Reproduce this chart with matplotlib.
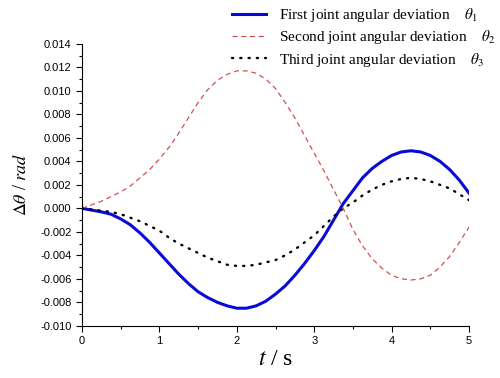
import numpy as np
import matplotlib
matplotlib.use('Agg')
import matplotlib.pyplot as plt
from matplotlib.ticker import MultipleLocator, FormatStrFormatter

# time samples (s)
t = [0, 0.125, 0.25, 0.375, 0.5, 0.625, 0.75, 0.875, 1.0, 1.125, 1.25,
     1.375, 1.5, 1.625, 1.75, 1.875, 2.0, 2.125, 2.25, 2.375, 2.5, 2.625,
     2.75, 2.875, 3.0, 3.125, 3.25, 3.375, 3.5, 3.625, 3.75, 3.875, 4.0,
     4.125, 4.25, 4.375, 4.5, 4.625, 4.75, 4.875, 5.0]

# joint angular deviations (rad)
theta1 = [0, -0.00015, -0.0003, -0.0005, -0.0009, -0.0014, -0.0021, -0.0029,
          -0.0038, -0.0047, -0.0056, -0.0064, -0.0071, -0.0076, -0.0080,
          -0.0083, -0.0085, -0.0085, -0.0083, -0.0079, -0.0073, -0.0066,
          -0.0057, -0.0047, -0.0036, -0.0024, -0.0010, 0.0004, 0.0015,
          0.0026, 0.0034, 0.0040, 0.0045, 0.0048, 0.0049, 0.0048, 0.0045,
          0.0040, 0.0033, 0.0024, 0.0013]
theta2 = [0, 0.0003, 0.0006, 0.0010, 0.0014, 0.0019, 0.0026, 0.0033, 0.0042,
          0.0052, 0.0064, 0.0077, 0.0090, 0.0101, 0.0109, 0.0114, 0.0117,
          0.0117, 0.0115, 0.0110, 0.0102, 0.0090, 0.0077, 0.0062, 0.0047,
          0.0032, 0.0016, 0.0000, -0.0018, -0.0032, -0.0043, -0.0051,
          -0.0057, -0.0060, -0.0061, -0.0060, -0.0057, -0.0050, -0.0041,
          -0.0029, -0.0016]
theta3 = [0, -0.0001, -0.0002, -0.0003, -0.0005, -0.0008, -0.0011, -0.0015,
          -0.0019, -0.0025, -0.0030, -0.0034, -0.0038, -0.0042, -0.0045,
          -0.0048, -0.0049, -0.0049, -0.0048, -0.0046, -0.0044, -0.0040,
          -0.0035, -0.0029, -0.0023, -0.0015, -0.0007, 0.0000, 0.0005,
          0.0011, 0.0016, 0.0020, 0.0023, 0.0025, 0.0026, 0.0025, 0.0023,
          0.0020, 0.0017, 0.0012, 0.0007]

plt.rcParams['mathtext.fontset'] = 'stix'

fig = plt.figure(figsize=(5, 3.78), dpi=100)
ax = fig.add_axes([0.164, 0.138, 0.774, 0.746])

l1, = ax.plot(t, theta1, color='#0a0ad8', lw=2.2)
l2, = ax.plot(t, theta2, color='#d05050', lw=0.9, ls=(0, (4, 3)))
l3, = ax.plot(t, theta3, color='black', lw=1.7, ls=(0, (0.5, 3.0)),
              dash_capstyle='round')

ax.set_xlim(0, 5)
ax.set_ylim(-0.010, 0.014)
ax.xaxis.set_major_locator(MultipleLocator(1))
ax.xaxis.set_minor_locator(MultipleLocator(0.5))
ax.yaxis.set_major_locator(MultipleLocator(0.002))
ax.yaxis.set_minor_locator(MultipleLocator(0.001))
ax.yaxis.set_major_formatter(FormatStrFormatter('%.3f'))
ax.spines['top'].set_visible(False)
ax.spines['right'].set_visible(False)
ax.tick_params(which='major', direction='out', length=4, width=0.8,
               labelsize=8)
ax.tick_params(which='minor', direction='out', length=2.5, width=0.8)
for lab in ax.get_xticklabels() + ax.get_yticklabels():
    lab.set_family('Liberation Sans')

ax.set_xlabel(r'$t$ / s', family='Liberation Serif', fontsize=17,
              labelpad=2)
ax.set_ylabel(r'$\Delta\theta$ / $rad$', family='Liberation Serif',
              fontsize=13, labelpad=7)

labels = [r'First joint angular deviation    $\theta_1$',
          r'Second joint angular deviation    $\theta_2$',
          r'Third joint angular deviation    $\theta_3$']
fig.legend([l1, l2, l3], labels, loc='upper left',
           bbox_to_anchor=(0.437, 1.02), frameon=False,
           prop={'family': 'Liberation Serif', 'size': 11},
           handlelength=2.2, labelspacing=0.28, handletextpad=0.85)

fig.savefig('out.png', dpi=100)
